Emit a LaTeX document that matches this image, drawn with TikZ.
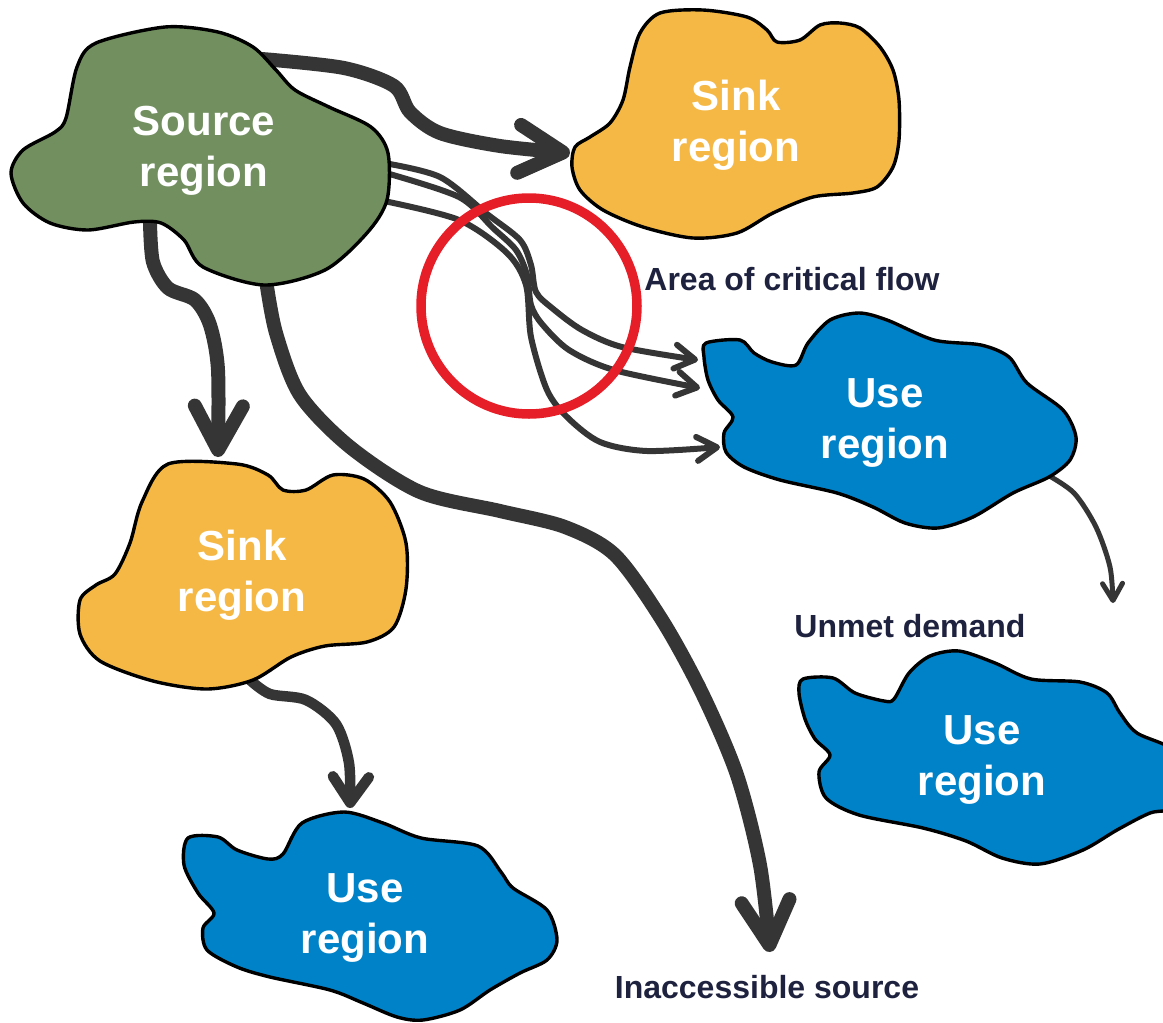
\documentclass[tikz,border=0pt]{standalone}
\usepackage{fontspec}
\setmainfont{Liberation Sans}
\usepackage{xcolor}
\usepackage{tikz}
\usetikzlibrary{arrows.meta}

\definecolor{srcgreen}{RGB}{114,143,95}
\definecolor{sinkorange}{RGB}{245,184,68}
\definecolor{useblue}{RGB}{0,130,200}
\definecolor{flowgray}{RGB}{53,53,53}
\definecolor{critred}{RGB}{230,30,40}
\definecolor{lblnavy}{RGB}{30,34,62}

\begin{document}
\begin{tikzpicture}[x=1pt, y=-1pt,
  blob/.style={draw=black, line width=3.4pt, line join=round},
  regtext/.style={text=white, align=center, inner sep=0pt, font=\bfseries\fontsize{42}{51}\selectfont},
  lbl/.style={text=lblnavy, anchor=base, inner sep=0pt, font=\bfseries\fontsize{32}{38}\selectfont},
  bigflow/.style={draw=flowgray, line width=14pt, line cap=round, line join=round,
    -{Straight Barb[length=44pt, width=48pt, round]}},
  midflow/.style={draw=flowgray, line width=10.5pt, line cap=round, line join=round,
    -{Straight Barb[length=26pt, width=36pt, round]}},
  thinflow/.style={draw=flowgray, line width=6pt, line cap=round, line join=round,
    -{Straight Barb[length=20pt, width=24pt, round]}},
  tinyflow/.style={draw=flowgray, line width=5pt, line cap=round, line join=round,
    -{Straight Barb[length=17pt, width=20pt, round]}}]

  \clip (0,0) rectangle (1163,1023);

  % connector end points
  \coordinate (srcNE) at (262,59);
  \coordinate (srcS1) at (150,222);
  \coordinate (srcS2) at (266,280);
  \coordinate (srcE1) at (384,163);
  \coordinate (srcE2) at (386,173);
  \coordinate (srcE3) at (384,201);
  \coordinate (sinkTopW) at (570,153);
  \coordinate (sinkLeftN) at (218,457);
  \coordinate (sinkLeftS) at (250,680);
  \coordinate (useLeftN) at (350,808);
  \coordinate (useMidW1) at (698,360);
  \coordinate (useMidW2) at (700,388);
  \coordinate (useMidW3) at (720,447);
  \coordinate (useMidSE) at (1046,474);
  \coordinate (unmetTip) at (1113,603);
  \coordinate (inaccTip) at (770,952);

  % flows
  \draw[bigflow] plot[smooth] coordinates {(srcNE) (344,68) (394,86) (410,112) (440,133) (500,146) (sinkTopW)};
  \draw[bigflow] plot[smooth] coordinates {(srcS1) (153,262) (168,288) (195,300) (210,325) (218,370) (sinkLeftN)};
  \draw[bigflow] plot[smooth] coordinates {(srcS2) (276,333) (300,395) (350,447) (420,492) (500,511) (565,527) (615,555) (662,620) (702,693) (737,775) (760,865) (inaccTip)};
  \draw[midflow] plot[smooth] coordinates {(sinkLeftS) (270,694) (306,700) (336,724) (349,763) (useLeftN)};
  \draw[tinyflow] plot[smooth] coordinates {(useMidSE) (1074,493) (1096,527) (1110,567) (unmetTip)};
  \draw[thinflow] plot[smooth] coordinates {(srcE1) (440,177) (487,214) (520,240) (531,265) (536,292) (552,308) (582,330) (622,347) (useMidW1)};
  \draw[thinflow] plot[smooth] coordinates {(srcE2) (459,197) (493,228) (516,250) (527,275) (531,305) (542,324) (569,350) (614,370) (useMidW2)};
  \draw[thinflow] plot[smooth] coordinates {(srcE3) (459,220) (507,253) (526,285) (531,337) (547,390) (567,417) (600,442) (647,451) (useMidW3)};

  % regions
  \draw[blob, fill=srcgreen] plot[smooth cycle] coordinates {(165,27) (218,32) (253,47) (276,70) (295,90) (329,107) (371,127) (388,153) (387,200) (367,233) (325,270) (264,285) (203,267) (184,240) (161,223) (134,222) (88,230) (50,223) (23,203) (11,173) (23,150) (55,132) (66,118) (77,67) (96,43)};
  \draw[blob, fill=sinkorange] plot[smooth cycle] coordinates {(660,13) (703,10) (747,17) (767,30) (777,42) (800,40) (820,25) (840,23) (860,28) (880,47) (893,70) (899,100) (899,140) (893,167) (877,187) (853,193) (813,197) (773,213) (737,233) (693,238) (643,227) (603,210) (580,190) (572,167) (575,147) (590,137) (610,123) (623,100) (630,67) (640,33)};
  \draw[blob, fill=sinkorange] plot[smooth cycle] coordinates {(168,464) (237,464) (268,475) (283,490) (306,490) (333,475) (364,479) (390,502) (406,543) (406,589) (394,627) (367,642) (325,646) (291,657) (253,680) (207,689) (153,681) (100,661) (80,634) (80,600) (96,585) (115,574) (130,543) (142,502)};
  \draw[blob, fill=useblue] plot[smooth cycle] coordinates {(706,343) (740,340) (754,353) (772,362) (796,365) (808,343) (830,320) (859,313) (887,320) (934,340) (981,345) (1009,357) (1027,383) (1063,410) (1076,437) (1070,460) (1049,477) (1013,493) (973,517) (938,528) (905,523) (873,507) (837,493) (780,480) (744,467) (726,452) (724,433) (733,417) (718,400) (708,380) (704,357)};
  \draw[blob, fill=useblue] plot[smooth cycle] coordinates {(188,838) (218,837) (237,850) (268,859) (283,854) (302,823) (344,812) (383,823) (421,838) (478,846) (501,872) (513,888) (547,910) (557,940) (547,960) (520,973) (490,990) (460,1010) (423,1020) (397,1017) (363,1003) (330,990) (270,977) (237,967) (207,950) (203,928) (214,913) (198,893) (184,865)};
  \draw[blob, fill=useblue] plot[smooth cycle] coordinates {(803,679) (833,678) (855,693) (884,701) (894,699) (909,673) (930,656) (959,651) (995,663) (1031,679) (1080,682) (1107,693) (1120,713) (1137,733) (1180,755) (1180,805) (1150,813) (1117,830) (1083,850) (1040,864) (1002,858) (966,841) (923,828) (859,815) (826,798) (819,772) (830,755) (815,739) (805,719) (799,693)};

  % area of critical flow
  \draw[critred, line width=9.5pt] (529,306) circle (108);

  % texts
  \node[regtext] (source) at (204,151) {Source\\region};
  \node[regtext] (sinkTop) at (736,125) {Sink\\region};
  \node[regtext] (sinkLeft) at (242,575) {Sink\\region};
  \node[regtext] (useMid) at (885,423) {Use\\region};
  \node[regtext] (useLeft) at (365,918) {Use\\region};
  \node[regtext] (useRight) at (982,760) {Use\\region};
  \node[lbl] (critLabel) at (792,290) {Area of critical flow};
  \node[lbl] (unmetLabel) at (910,637) {Unmet demand};
  \node[lbl] (inaccLabel) at (767,998) {Inaccessible source};
\end{tikzpicture}
\end{document}
